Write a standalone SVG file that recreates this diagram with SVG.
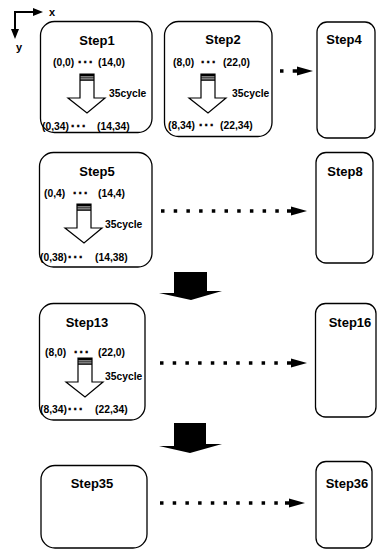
<svg xmlns="http://www.w3.org/2000/svg" width="378" height="549" viewBox="0 0 378 549">
<style>
  text { font-family: "Liberation Sans", Arial, sans-serif; font-weight: bold; fill: #000; }
  .title { font-size: 13px; text-anchor: middle; }
  .coord { font-size: 10.3px; }
  .ell { font-size: 12px; stroke: #000; stroke-width: 0.5; letter-spacing: 1.5px; }
  .cyc { font-size: 10.3px; }
  .ax { font-size: 11px; }
  .box { fill: #fff; stroke: #000; stroke-width: 1.3; }
  .hollow { fill: #fff; stroke: #000; stroke-width: 1.2; }
  .dots { fill: none; stroke: #000; stroke-width: 3.5; stroke-dasharray: 3.5 9.2; marker-end: url(#head); }
  .axis { fill: none; stroke: #000; stroke-width: 2; }
  .big { fill: #000; }
</style>
<defs>
  <marker id="head" markerUnits="userSpaceOnUse" viewBox="0 -5 20 10" markerWidth="20" markerHeight="10" refX="0" refY="0" orient="auto">
    <path d="M0,-1.8 H4 V-4.5 L20,0 L4,4.5 V1.8 H0 Z" fill="#000"/>
  </marker>
  <marker id="axhead" markerUnits="userSpaceOnUse" viewBox="0 -4 10 8" markerWidth="10" markerHeight="8" refX="0" refY="0" orient="auto">
    <path d="M0,-4 L10,0 L0,4 Z" fill="#000"/>
  </marker>
  <g id="hollowArrow">
    <polygon class="hollow" points="-7,0 7,0 7,24 18,24 0,39 -19,24 -7,24"/>
    <rect x="-7" y="0" width="14" height="2.5" fill="#000"/>
    <rect x="-7" y="3.3" width="14" height="1.2" fill="#000"/>
    <rect x="-7" y="5.3" width="14" height="1.5" fill="#000"/>
  </g>
</defs>

<g id="axes">
  <path class="axis" d="M15,12 H33" marker-end="url(#axhead)"/>
  <path class="axis" d="M15,11 V29" marker-end="url(#axhead)"/>
  <text class="ax" x="49" y="16">x</text>
  <text class="ax" x="16" y="51">y</text>
</g>

<g id="step1">
  <rect class="box" x="40.5" y="21.5" width="111.5" height="111" rx="14"/>
  <text class="title" x="97" y="45">Step1</text>
  <text class="coord" x="53" y="66">(0,0)</text>
  <text class="coord ell" x="78" y="66">···</text>
  <text class="coord" x="98" y="66">(14,0)</text>
  <use href="#hollowArrow" x="87" y="74"/>
  <text class="cyc" x="109" y="97">35cycle</text>
  <text class="coord" x="42" y="130">(0,34)</text>
  <text class="coord ell" x="71" y="130">···</text>
  <text class="coord" x="97" y="130">(14,34)</text>
</g>

<g id="step2">
  <rect class="box" x="164.5" y="21.5" width="107.5" height="115" rx="14"/>
  <text class="title" x="223" y="44">Step2</text>
  <text class="coord" x="173" y="66">(8,0)</text>
  <text class="coord ell" x="201" y="66">···</text>
  <text class="coord" x="223" y="66">(22,0)</text>
  <use href="#hollowArrow" x="208" y="74"/>
  <text class="cyc" x="232" y="97">35cycle</text>
  <text class="coord" x="168" y="129">(8,34)</text>
  <text class="coord ell" x="199" y="129">···</text>
  <text class="coord" x="220" y="129">(22,34)</text>
</g>

<g id="step4">
  <rect class="box" x="317" y="22" width="58" height="116" rx="10"/>
  <text class="title" x="344" y="44">Step4</text>
</g>

<g id="step5">
  <rect class="box" x="39.5" y="152.5" width="112.5" height="114.5" rx="14"/>
  <text class="title" x="97" y="176">Step5</text>
  <text class="coord" x="44" y="197">(0,4)</text>
  <text class="coord ell" x="73" y="197">···</text>
  <text class="coord" x="98" y="197">(14,4)</text>
  <use href="#hollowArrow" x="84" y="204"/>
  <text class="cyc" x="105" y="228">35cycle</text>
  <text class="coord" x="40" y="261">(0,38)</text>
  <text class="coord ell" x="68" y="261">···</text>
  <text class="coord" x="95" y="261">(14,38)</text>
</g>

<g id="step8">
  <rect class="box" x="316" y="152.5" width="57" height="110.5" rx="10"/>
  <text class="title" x="345" y="176">Step8</text>
</g>

<g id="step13">
  <rect class="box" x="39.5" y="303.5" width="105.5" height="116.5" rx="14"/>
  <text class="title" x="87" y="327">Step13</text>
  <text class="coord" x="45" y="356">(8,0)</text>
  <text class="coord ell" x="74" y="356">···</text>
  <text class="coord" x="98" y="356">(22,0)</text>
  <use href="#hollowArrow" x="85" y="358"/>
  <text class="cyc" x="105" y="380">35cycle</text>
  <text class="coord" x="40" y="413">(8,34)</text>
  <text class="coord ell" x="68" y="413">···</text>
  <text class="coord" x="95" y="413">(22,34)</text>
</g>

<g id="step16">
  <rect class="box" x="315.5" y="303.5" width="60.5" height="113.5" rx="10"/>
  <text class="title" x="350" y="327">Step16</text>
</g>

<g id="step35">
  <rect class="box" x="41" y="465.5" width="106" height="82.5" rx="14"/>
  <text class="title" x="92" y="488">Step35</text>
</g>

<g id="step36">
  <rect class="box" x="316" y="461.5" width="56" height="86.5" rx="10"/>
  <text class="title" x="347" y="488">Step36</text>
</g>

<g id="connectors">
  <path class="dots" d="M280,71 H293"/>
  <path class="dots" d="M161,211 H287"/>
  <path class="dots" d="M160,363 H287"/>
  <path class="dots" d="M160,503 H285"/>
  <polygon class="big" points="174,272 207,272 207,291 222,291 191,300 159,293 174,293"/>
  <polygon class="big" points="174,423 206,423 206,444 222,444 190,453 159,446 174,446"/>
</g>
</svg>
